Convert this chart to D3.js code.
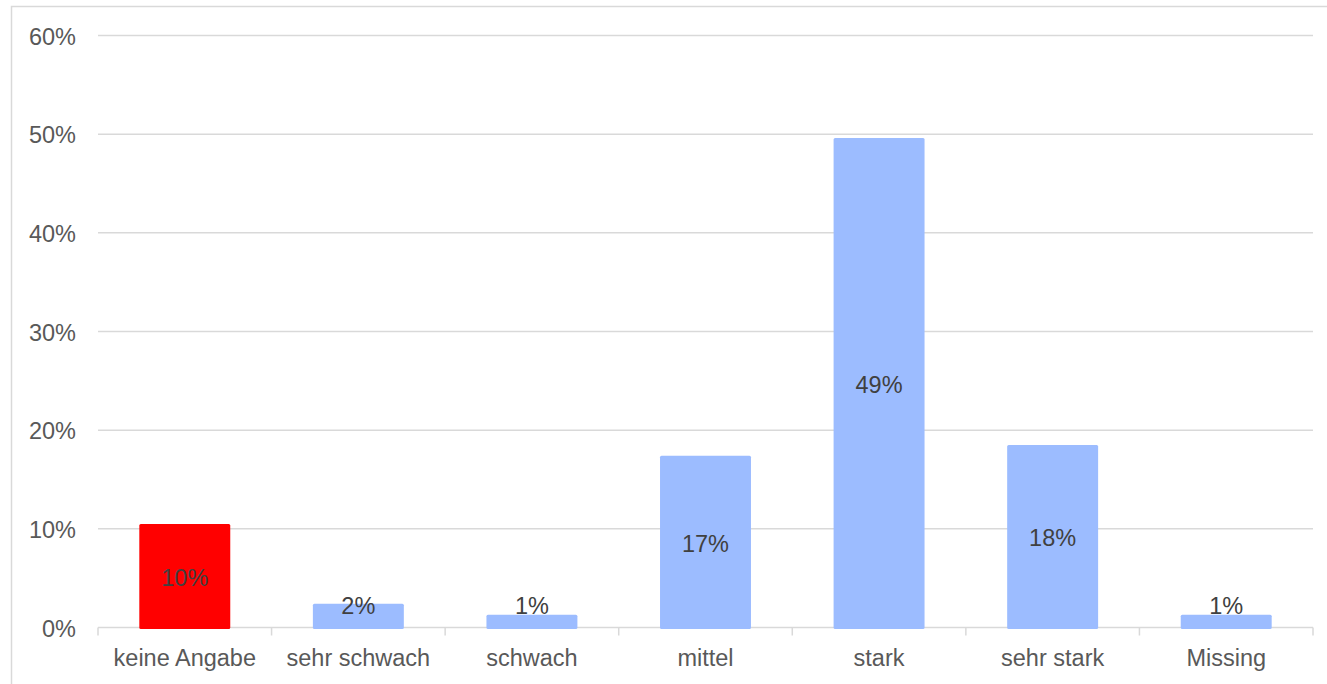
<!DOCTYPE html>
<html>
<head>
<meta charset="utf-8">
<script src="https://cdn.jsdelivr.net/npm/d3@7"></script>
<style>
  html, body { margin: 0; padding: 0; background: #fff; }
  svg { display: block; }
  text { font-family: "Liberation Sans", Arial, sans-serif; }
</style>
</head>
<body>
<svg id="chart" width="1327" height="684"></svg>
<script>
// Answer categories and their share of responses (percent)
const categories = ["keine Angabe", "sehr schwach", "schwach", "mittel", "stark", "sehr stark", "Missing"];
const shares = [10.5, 2.4, 1.3, 17.4, 49.6, 18.5, 1.3];
const highlighted = ["keine Angabe"];
const yTicks = [0, 10, 20, 30, 40, 50, 60];

const W = 1327, H = 684;
const margin = { left: 98, right: 14, top: 35.5, bottom: 56.5 };
const fontSize = 23.5;

const svg = d3.select("#chart");

// chart frame
svg.append("rect")
  .attr("x", 11.5).attr("y", 6.5)
  .attr("width", W).attr("height", H)
  .attr("fill", "none").attr("stroke", "#d9d9d9").attr("stroke-width", 1.5);

const x = d3.scaleBand()
  .domain(categories)
  .range([margin.left, W - margin.right])
  .paddingInner(0.476).paddingOuter(0.238);

const y = d3.scaleLinear()
  .domain([0, 60])
  .range([H - margin.bottom, margin.top]);

// horizontal gridlines
svg.append("g")
  .selectAll("line")
  .data(yTicks)
  .join("line")
  .attr("x1", margin.left).attr("x2", W - margin.right)
  .attr("y1", d => y(d)).attr("y2", d => y(d))
  .attr("stroke", "#d9d9d9").attr("stroke-width", 1.5);

// y axis labels
svg.append("g")
  .selectAll("text")
  .data(yTicks)
  .join("text")
  .attr("x", 76).attr("y", d => y(d) + 1)
  .attr("dy", "0.35em")
  .attr("text-anchor", "end")
  .attr("font-size", fontSize)
  .attr("fill", "#595959")
  .text(d => d + "%");

// category boundary ticks below the baseline
const bounds = d3.range(categories.length + 1).map(i => margin.left + i * (W - margin.left - margin.right) / categories.length);
svg.append("g")
  .selectAll("line")
  .data(bounds)
  .join("line")
  .attr("x1", d => d).attr("x2", d => d)
  .attr("y1", y(0)).attr("y2", y(0) + 8)
  .attr("stroke", "#d9d9d9").attr("stroke-width", 1.5);

// bars
svg.append("g")
  .selectAll("rect")
  .data(categories)
  .join("rect")
  .attr("x", d => x(d))
  .attr("width", x.bandwidth())
  .attr("y", (d, i) => y(shares[i]))
  .attr("height", (d, i) => y(0) - y(shares[i]) + 1.5)
  .attr("rx", 1.5)
  .attr("fill", d => highlighted.includes(d) ? "#ff0000" : "#9cbcff");

// value labels, truncated to whole percent
svg.append("g")
  .selectAll("text")
  .data(categories)
  .join("text")
  .attr("x", d => x(d) + x.bandwidth() / 2)
  .attr("y", (d, i) => Math.min((y(shares[i]) + y(0)) / 2, y(0) - 24) + 2)
  .attr("dy", "0.35em")
  .attr("text-anchor", "middle")
  .attr("font-size", fontSize)
  .attr("fill", "#404040")
  .text((d, i) => Math.floor(shares[i]) + "%");

// category labels
svg.append("g")
  .selectAll("text")
  .data(categories)
  .join("text")
  .attr("x", d => x(d) + x.bandwidth() / 2)
  .attr("y", 666)
  .attr("text-anchor", "middle")
  .attr("font-size", fontSize)
  .attr("fill", "#595959")
  .text(d => d);
</script>
</body>
</html>
